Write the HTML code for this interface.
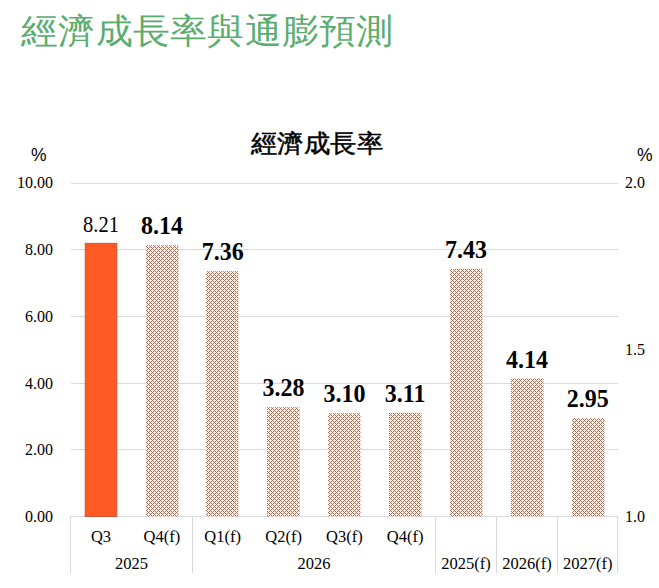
<!DOCTYPE html>
<html><head><meta charset="utf-8"><style>
*{margin:0;padding:0;box-sizing:border-box}
html,body{width:659px;height:588px;background:#fff;overflow:hidden;position:relative}
body{font-family:"Liberation Serif",serif;color:#000}
.a{position:absolute;white-space:nowrap;line-height:1}
.title{left:21px;top:13px;font-family:"Liberation Sans",sans-serif;font-size:37px;letter-spacing:0.25px;color:#5AAD6F;transform:scaleY(0.95);transform-origin:50% 50%}
.ctitle{left:251px;top:131px;font-family:"Liberation Sans",sans-serif;font-size:26px;letter-spacing:0.45px;-webkit-text-stroke:0.5px #000;transform:scaleY(0.95);transform-origin:50% 0}
.pct{font-family:"Liberation Sans",sans-serif;font-size:17.5px}
.yl{font-size:16px;text-align:right;width:60px}
.yr{font-size:16px}
.grid{position:absolute;left:71px;width:547px;height:1px;background:#D9D9D9}
.vl{position:absolute;width:1px;background:#D9D9D9;top:516px;height:57px}
.val{font-size:24px;font-weight:bold;text-align:center;width:80px;transform:scaleY(1.06);transform-origin:50% 100%}
.cat{font-size:16.5px;text-align:center;width:80px}
</style></head><body>
<svg width="0" height="0" style="position:absolute">
<defs><pattern id="h" width="4" height="4" patternUnits="userSpaceOnUse">
<rect width="4" height="4" fill="#FFF7EE"/>
<rect x="0" y="0" width="1" height="1" fill="#B86A55"/>
<rect x="1" y="1" width="1" height="1" fill="#B86A55"/>
<rect x="3" y="1" width="1" height="1" fill="#B86A55"/>
<rect x="2" y="2" width="1" height="1" fill="#B86A55"/>
<rect x="1" y="3" width="1" height="1" fill="#B86A55"/>
<rect x="3" y="3" width="1" height="1" fill="#B86A55"/>
</pattern></defs></svg>
<div class="a title">經濟成長率與通膨預測</div>
<div class="a ctitle">經濟成長率</div>
<div class="a pct" style="left:31px;top:147px">%</div>
<div class="a pct" style="left:637px;top:147px">%</div>

<div class="grid" style="top:516.0px"></div>
<div class="a yl" style="left:-7px;top:509.0px">0.00</div>
<div class="grid" style="top:449.3px"></div>
<div class="a yl" style="left:-7px;top:442.3px">2.00</div>
<div class="grid" style="top:382.7px"></div>
<div class="a yl" style="left:-7px;top:375.7px">4.00</div>
<div class="grid" style="top:316.0px"></div>
<div class="a yl" style="left:-7px;top:309.0px">6.00</div>
<div class="grid" style="top:249.4px"></div>
<div class="a yl" style="left:-7px;top:242.4px">8.00</div>
<div class="grid" style="top:182.7px"></div>
<div class="a yl" style="left:-7px;top:174.7px">10.00</div>
<div class="a yr" style="left:625px;top:509.0px">1.0</div>
<div class="a yr" style="left:625px;top:342.4px">1.5</div>
<div class="a yr" style="left:625px;top:174.7px">2.0</div>
<svg class="a" style="left:0;top:0" width="659" height="588">
<rect x="85.27" y="243.36" width="31.5" height="273.14" fill="#FF5A26" stroke="#D0542C" stroke-width="1"/>
<rect x="146" y="245.19" width="32.5" height="271.31" fill="url(#h)"/>
<rect x="206" y="271.19" width="32.5" height="245.31" fill="url(#h)"/>
<rect x="267" y="407.18" width="32.5" height="109.32" fill="url(#h)"/>
<rect x="328" y="413.18" width="32.5" height="103.32" fill="url(#h)"/>
<rect x="389" y="412.84" width="32.5" height="103.66" fill="url(#h)"/>
<rect x="450" y="268.86" width="32.5" height="247.64" fill="url(#h)"/>
<rect x="511" y="378.51" width="32.5" height="137.99" fill="url(#h)"/>
<rect x="572" y="418.18" width="32.5" height="98.32" fill="url(#h)"/>
</svg>
<div class="a val" style="font-weight:normal;font-size:20.5px;transform:scaleY(1.08);left:61.0px;top:215.4px">8.21</div>
<div class="a cat" style="left:61.0px;top:529px">Q3</div>
<div class="a val" style="left:121.9px;top:214.2px">8.14</div>
<div class="a cat" style="left:121.9px;top:529px">Q4(f)</div>
<div class="a val" style="left:182.7px;top:240.2px">7.36</div>
<div class="a cat" style="left:182.7px;top:529px">Q1(f)</div>
<div class="a val" style="left:243.6px;top:376.2px">3.28</div>
<div class="a cat" style="left:243.6px;top:529px">Q2(f)</div>
<div class="a val" style="left:304.4px;top:382.2px">3.10</div>
<div class="a cat" style="left:304.4px;top:529px">Q3(f)</div>
<div class="a val" style="left:365.2px;top:381.8px">3.11</div>
<div class="a cat" style="left:365.2px;top:529px">Q4(f)</div>
<div class="a val" style="left:426.1px;top:237.9px">7.43</div>
<div class="a cat" style="left:426.1px;top:556px">2025(f)</div>
<div class="a val" style="left:486.9px;top:347.5px">4.14</div>
<div class="a cat" style="left:486.9px;top:556px">2026(f)</div>
<div class="a val" style="left:547.8px;top:387.2px">2.95</div>
<div class="a cat" style="left:547.8px;top:556px">2027(f)</div>
<div class="a cat" style="left:91.4px;top:556px">2025</div>
<div class="a cat" style="left:274.0px;top:556px">2026</div>
<div class="vl" style="left:70px"></div>
<div class="vl" style="left:192px"></div>
<div class="vl" style="left:435px"></div>
<div class="vl" style="left:496px"></div>
<div class="vl" style="left:557px"></div>
<div class="vl" style="left:617px"></div>
</body></html>
